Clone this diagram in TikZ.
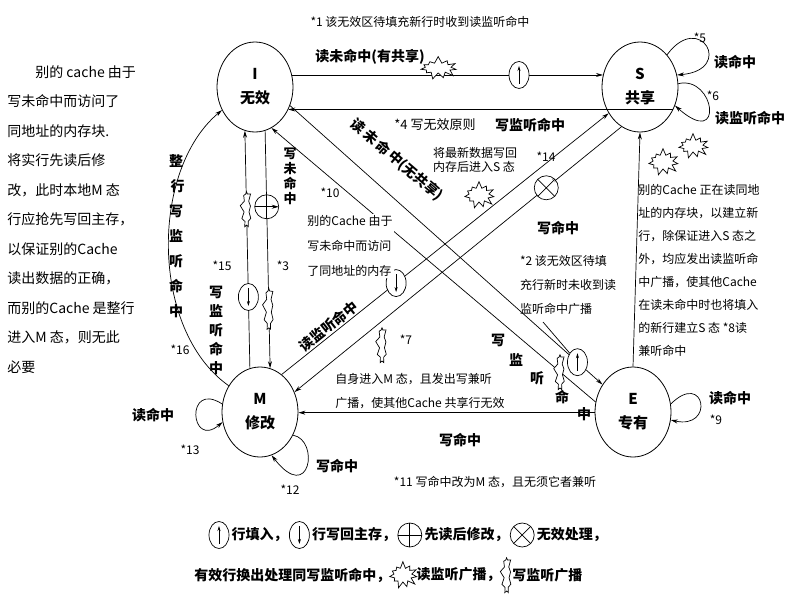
\documentclass[tikz,border=0pt]{standalone}
\usepackage{fontspec}
\setmainfont{Noto Sans CJK SC}
\usetikzlibrary{shapes.geometric,shapes.symbols,arrows.meta,positioning}

\tikzset{
  state/.style={ellipse,draw,thick,minimum width=76pt,minimum height=90pt,inner sep=0pt,align=center,font=\bfseries\fontsize{15}{24}\selectfont},
  lab/.style={font=\bfseries\fontsize{14}{16}\selectfont,inner sep=1pt},
  note/.style={font=\fontsize{12}{14}\selectfont,inner sep=1pt,align=left},
  symb/.style={ellipse,draw,fill=white,minimum width=20pt,minimum height=27pt,inner sep=0pt},
  fillin/.style={symb,path picture={\draw[-{Stealth[length=5pt,width=3pt]}] ([yshift=-9pt]path picture bounding box.center) -- ([yshift=9pt]path picture bounding box.center);}},
  wback/.style={symb,path picture={\draw[-{Stealth[length=5pt,width=3pt]}] ([yshift=9pt]path picture bounding box.center) -- ([yshift=-9pt]path picture bounding box.center);}},
  rmod/.style={circle,draw,fill=white,minimum size=24pt,inner sep=0pt,path picture={\draw (path picture bounding box.north) -- (path picture bounding box.south) (path picture bounding box.west) -- (path picture bounding box.east);}},
  inval/.style={circle,draw,fill=white,minimum size=24pt,inner sep=0pt,path picture={\draw (path picture bounding box.north west) -- (path picture bounding box.south east) (path picture bounding box.south west) -- (path picture bounding box.north east);}},
  rburst/.style={starburst,draw,fill=white,minimum width=40pt,minimum height=24pt,starburst points=11,starburst point height=7pt,random starburst=7,inner sep=0pt},
  wburst/.style={starburst,draw,fill=white,minimum width=13pt,minimum height=40pt,starburst points=9,starburst point height=4pt,random starburst=3,inner sep=0pt},
}

\begin{document}
\begin{tikzpicture}[x=1pt,y=-1pt,>={Stealth[length=7pt,width=4pt]},line width=0.7pt]
  \useasboundingbox (0,0) rectangle (800,600);

  % states
  \node[state] (I) at (255,87) {I\\无效};
  \node[state] (S) at (640,87) {S\\共享};
  \node[state] (M) at (260,412) {M\\修改};
  \node[state] (E) at (633,412) {E\\专有};

  % transitions
  \draw[->] (I.18) -- node[pos=.47,rburst,yshift=7pt] {} node[pos=.73,fillin] {} (S.162);
  \node[lab] at (370,57) {读未命中(有共享)};
  \draw[->] (S.-34) -- (I.-34);
  \node[note,font=\fontsize{13}{15}\selectfont] at (435,125) {*4 写无效原则};
  \node[lab] at (530,125) {写监听命中};

  \draw[->] (I.-28) -- node[pos=.92,fillin] (up2) {} (E.138);
  \node[lab,rotate=-40.6] at (397,160) {读\,未\,命\,中(无共享)};
  \draw[->] (E.165) -- (I.-68);
  \draw[->] (M.60) -- node[pos=.35,wback] {} node[pos=.16,sloped,above,lab] {读监听命中} (S.-140);
  \draw[->] (S.-115) -- node[pos=.23,inval] {} (M.30);
  \node[lab] at (558,228) {写命中};
  \draw[->] (E.181) -- (M.-1);
  \node[lab] at (460,440) {写命中};
  \draw[->] (E.90) -- (S.-90);

  \draw[->] (M.103) -- node[pos=.67,wburst] {} node[pos=.3,wback] {} (I.-103);
  \draw[->] (I.-77) -- node[pos=.32,rmod] {} node[pos=.75,wburst,minimum height=46pt] {} (M.77);
  \draw[->] (M.140) .. controls (150,330) and (150,170) .. (I.215);

  % self loops
  \draw[->] (S.50) .. controls (700,10) and (735,70) .. (S.18);
  \draw[->] (S.5) .. controls (715,75) and (725,150) .. (S.-28);
  \draw[->] (E.12) .. controls (705,370) and (715,430) .. (E.-12);
  \draw[->] (M.168) .. controls (185,380) and (190,450) .. (M.195);
  \draw[->] (M.-35) .. controls (320,440) and (310,505) .. (M.-75);

  % bursts
  \node[wburst] at (382,345) {};
  \node[wburst] at (560,372) {};
  \node[rburst,minimum width=34pt,minimum height=28pt] at (479,195) {};
  \node[rburst,minimum width=34pt,minimum height=28pt] at (663,162) {};
  \node[rburst,minimum width=34pt,minimum height=26pt] at (693,146) {};

  % labels on loops and edges
  \node[note] at (700,38) {*5};
  \node[lab] at (735,62) {读命中};
  \node[note] at (713,96) {*6};
  \node[lab] at (750,118) {读监听命中};
  \node[lab] at (730,398) {读命中};
  \node[note] at (716,420) {*9};
  \node[lab] at (153,415) {读命中};
  \node[note] at (190,450) {*13};
  \node[lab] at (337,466) {写命中};
  \node[note] at (290,490) {*12};
  \node[lab,align=center,font=\bfseries\fontsize{14}{25}\selectfont] at (176,236) {整\\\ 行\\写\\监\\听\\命\\中};
  \node[note] at (180,350) {*16};
  \node[lab,align=center,font=\bfseries\fontsize{14}{19}\selectfont] at (216,330) {写\\监\\听\\命\\中};
  \node[note] at (222,266) {*15};
  \node[lab,align=center,font=\bfseries\fontsize{13}{15}\selectfont] at (290,176) {写\\未\\命\\中};
  \node[note] at (283,266) {*3};
  \node[lab] at (498,340) {写};
  \node[lab] at (516,360) {监};
  \node[lab] at (537,378) {听};
  \node[lab] at (562,397) {命};
  \node[lab] at (584,414) {中};

  % notes
  \node[note] at (420,22) {*1 该无效区待填充新行时收到读监听命中};
  \node[note,align=left] at (475,160) {将最新数据写回\\内存后进入S 态};
  \node[note] at (546,157) {*14};
  \node[note] at (330,193) {*10};
  \node[note,fill=white,font=\fontsize{12}{25}\selectfont] (n10) at (350,246) {别的Cache 由于\\写未命中而访问\\了同地址的内存};
  \node[note] at (406,340) {*7};
  \node[note,font=\fontsize{12}{24}\selectfont] (n2) at (568,285) {*2 该无效区待填\\充行新时未收到读\\监听命中广播};
  \draw (543,322) -- (up2);
  \node[note,font=\fontsize{12}{23}\selectfont,anchor=north west] at (637,183) {别的Cache 正在读同地\\址的内存块，以建立新\\行，除保证进入S 态之\\外，均应发出读监听命\\中广播，使其他Cache\\在读未命中时也将填入\\的新行建立S 态 *8读\\兼听命中};
  \node[note,font=\fontsize{12}{24}\selectfont] at (420,391) {自身进入M 态，且发出写兼听\\广播，使其他Cache 共享行无效};
  \node[note] at (495,482) {*11 写命中改为M 态，且无须它者兼听};
  \node[note,font=\fontsize{14}{29.5}\selectfont,anchor=north west] at (6,64) {\hspace{2em}别的 cache 由于\\写未命中而访问了\\同地址的内存块.\\将实行先读后修\\改，此时本地M 态\\行应抢先写回主存，\\以保证别的Cache\\读出数据的正确，\\而别的Cache 是整行\\进入M 态，则无此\\必要};

  % legend
  \node[fillin] (lg1) at (219,535) {};
  \node[lab,right=1pt of lg1] (lt1) {行填入，};
  \node[wback,right=0pt of lt1] (lg2) {};
  \node[lab,right=1pt of lg2] (lt2) {行写回主存，};
  \node[rmod,right=0pt of lt2] (lg3) {};
  \node[lab,right=1pt of lg3] (lt3) {先读后修改，};
  \node[inval,right=0pt of lt3] (lg4) {};
  \node[lab,right=1pt of lg4] (lt4) {无效处理，};
  \node[lab,anchor=west] (lt5) at (193,575) {有效行换出处理同写监听命中，};
  \node[rburst,minimum width=32pt,minimum height=28pt,right=0pt of lt5] (lg5) {};
  \node[lab,right=1pt of lg5] (lt6) {读监听广播，};
  \node[wburst,right=0pt of lt6] (lg6) {};
  \node[lab,right=1pt of lg6] (lt7) {写监听广播};
\end{tikzpicture}
\end{document}
